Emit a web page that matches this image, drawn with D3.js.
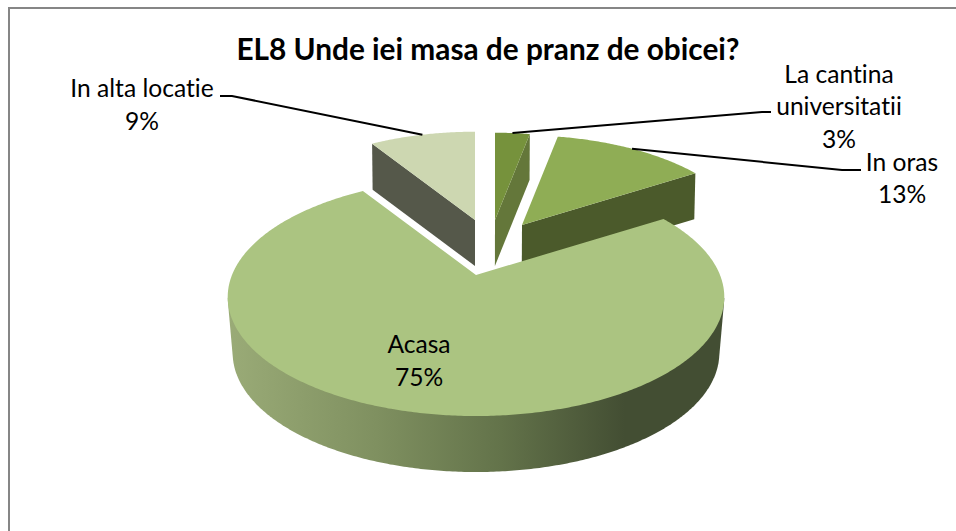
<!DOCTYPE html>
<html>
<head>
<meta charset="utf-8">
<script src="https://cdn.jsdelivr.net/npm/d3@7/dist/d3.min.js"></script>
<style>
html,body{margin:0;padding:0;background:#fff;overflow:hidden}
svg{display:block}
text{font-family:Lato,"Open Sans",sans-serif;fill:#000;font-variant-ligatures:none;font-feature-settings:"liga" 0}
</style>
</head>
<body>
<svg id="c" width="956" height="531"></svg>
<script>
const titleText = "EL8 Unde iei masa de pranz de obicei?";
const categories = ["La cantina universitatii", "In oras", "Acasa", "In alta locatie"];
const values = [3, 13, 75, 9];
const labelLines = [["La cantina", "universitatii", "3%"], ["In oras", "13%"], ["Acasa", "75%"], ["In alta locatie", "9%"]];
const faceColors = ["#76923c", "#8fad55", "#abc481", "#cdd7b1"];
const wallColors = ["#64773a", "#4b5a2b", null, "#55584a"];
const explodeDx = [19, 46, 0, -1];
const explodeDy = [-55, -50, 0, -55];
const sliceScale = [0.9, 0.925, 1, 0.91];
const sliceDepth = [46, 46, 56, 46];
const labelX = [839, 902, 419, 142];
const labelY = [82.5, 170.5, 353, 97];
const leaderElbows = [[[762,112],[771,112]], [[842,170],[861,170]], null, [[232,96],[220,96]]];

const svg = d3.select("#c");
const cx = 476, cy = 297;
const A = 244, B = 119, C = 22, P = 0.185;

svg.append("path").attr("d","M956,8H9V531").attr("fill","none")
  .attr("stroke","#868686").attr("stroke-width",2);

const pie = d3.pie().sort(null).value(d=>d).startAngle(0).endAngle(2*Math.PI);
const arcs = pie(values);

function rimPoint(angle){
  const u = Math.sin(angle), v = Math.cos(angle), w = 1 + P*v;
  return [A*u/w, (B*v + C)/w];
}
function slicePoint(i, angle){
  const p = rimPoint(angle), s = sliceScale[i];
  return [cx + explodeDx[i] + p[0]*s, cy - C + explodeDy[i] - (p[1]-C)*s];
}
function apexPoint(i){ return [cx + explodeDx[i], cy - C + explodeDy[i]]; }
function drop(i, pt){
  const k = i === 2 ? 0.98 : 0.995;
  return [cx + (pt[0]-cx)*k, pt[1] + sliceDepth[i]];
}
function rim(i, a0, a1){
  const n = Math.max(2, Math.ceil((a1-a0)/0.01));
  return d3.range(n+1).map(j => slicePoint(i, a0 + (a1-a0)*j/n));
}
const line = d3.line().curve(d3.curveLinear);

const defs = svg.append("defs");
const grad = defs.append("linearGradient").attr("id","wall").attr("gradientUnits","userSpaceOnUse")
  .attr("x1",cx-248).attr("x2",cx+248).attr("y1",0).attr("y2",0);
[[0,"#9aab77"],[0.3,"#7f9060"],[0.55,"#63734a"],[0.8,"#434e33"],[1,"#434e33"]].forEach(s=>{
  grad.append("stop").attr("offset",s[0]).attr("stop-color",s[1]);
});

const g = svg.append("g");
function drawSlice(i){
  const a = arcs[i], r = rim(i, a.startAngle, a.endAngle), apex = apexPoint(i);
  if(i === 2){
    const lower = r.filter(p => p[1] >= cy);
    const hull = d3.polygonHull(lower.concat(lower.map(p=>drop(i,p))));
    g.append("path").attr("d", line(hull)+"Z").attr("fill","url(#wall)");
  } else {
    const edge = i === 3 ? r[0] : r[r.length-1];
    g.append("path").attr("d", line([edge, apex, drop(i,apex), drop(i,edge)])+"Z").attr("fill", wallColors[i]);
  }
  g.append("path").attr("d", line([apex].concat(r))+"Z").attr("fill", faceColors[i]);
}
[3,0,1,2].forEach(drawSlice);

leaderElbows.forEach((el,i)=>{
  if(!el) return;
  const a = arcs[i];
  const start = slicePoint(i,(a.startAngle+a.endAngle)/2);
  svg.append("path").attr("d", line([start].concat(el))).attr("fill","none").attr("stroke","#000").attr("stroke-width",2);
});

labelLines.forEach((lines,i)=>{
  lines.forEach((t,j)=>{
    svg.append("text").attr("x",labelX[i]).attr("y",labelY[i]+j*32.5)
      .attr("text-anchor","middle").attr("font-size",24.6).text(t);
  });
});

svg.append("text").attr("x",488).attr("y",60).attr("text-anchor","middle")
  .attr("font-size",29.8).attr("font-weight",700).text(titleText);
</script>
</body>
</html>
